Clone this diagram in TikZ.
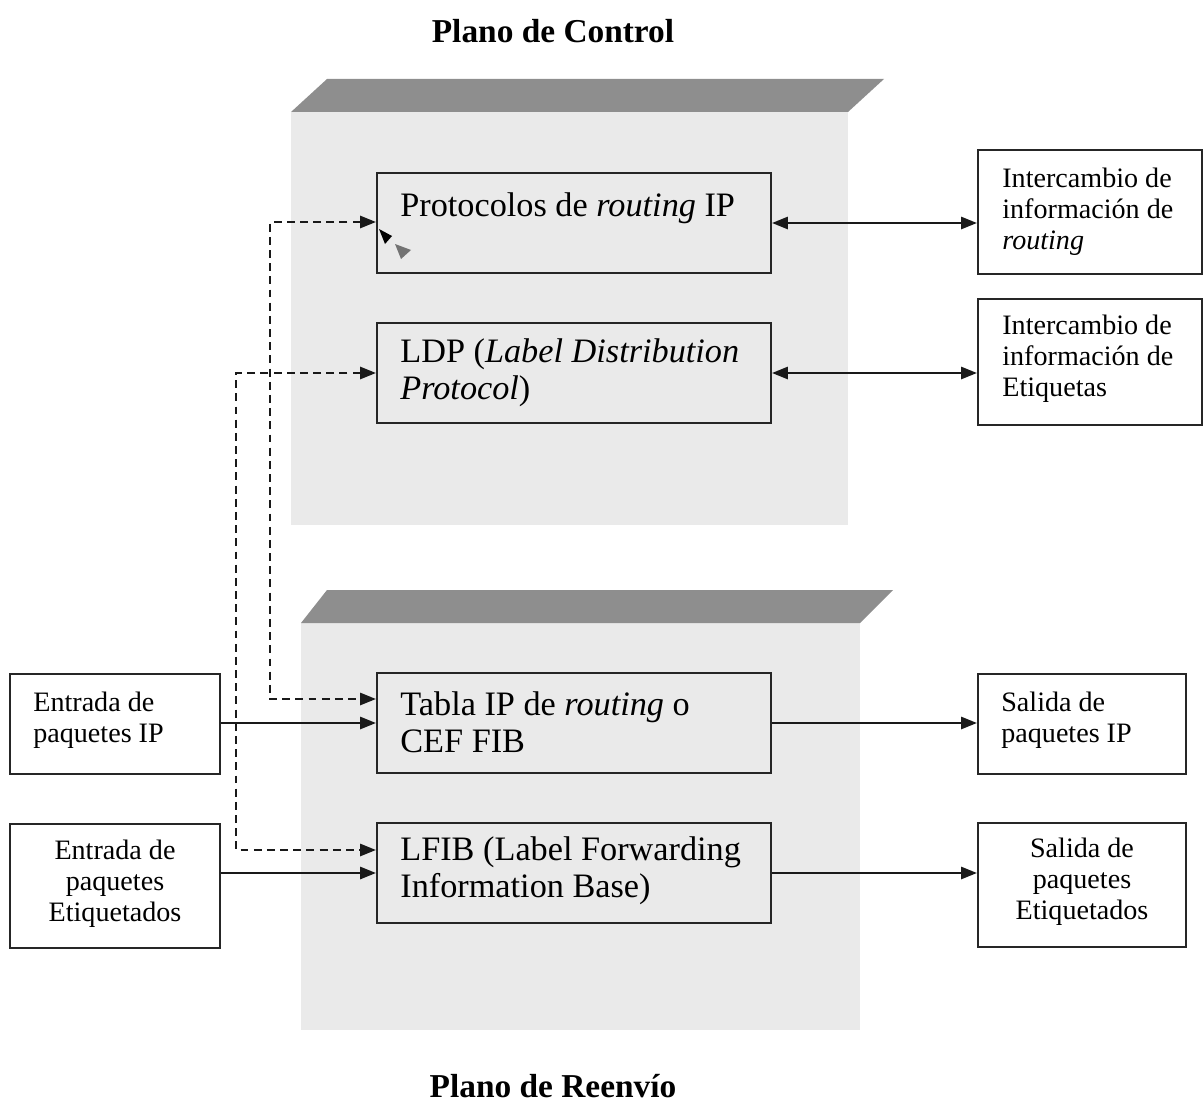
\documentclass[tikz,border=0pt]{standalone}
\usepackage{fontspec}
\setmainfont{Liberation Serif}
\usetikzlibrary{arrows.meta}
\definecolor{planefront}{HTML}{EAEAEA}
\definecolor{planetop}{HTML}{8E8E8E}
\begin{document}
\begin{tikzpicture}[x=0.02cm,y=-0.02cm,
  box/.style={draw=black!85,line width=1.3pt,rectangle,inner sep=0pt},
  outerbox/.style={box,fill=white},
  bigtext/.style={font=\fontsize{19.5}{21}\selectfont,align=left,inner sep=0pt,anchor=west},
  smalltext/.style={font=\fontsize{16}{17.6}\selectfont,inner sep=0pt},
  titletext/.style={font=\fontsize{19}{22}\selectfont\bfseries,inner sep=0pt},
  conn/.style={line width=1.1pt,draw=black!90},
  tipend/.style={-{Triangle[length=9pt,width=7pt]}},
  tipboth/.style={{Triangle[length=9pt,width=7pt]}-{Triangle[length=9pt,width=7pt]}},
  dashconn/.style={conn,dash pattern=on 4.5pt off 3pt}
]
\useasboundingbox (0,0) rectangle (1204,1115);

% titles
\node[titletext] (tctl) at (553,31) {Plano de Control};
\node[titletext] (tfwd) at (553,1086) {Plano de Reenvío};

% control plane slab
\fill[planefront] (291,112) rectangle (848,525);
\fill[planetop] (291,112) -- (327,79) -- (884,79) -- (848,112) -- cycle;

% forwarding plane slab
\fill[planefront] (301,623) rectangle (860,1030);
\fill[planetop] (301,623) -- (327,590) -- (893,590) -- (860,623) -- cycle;

% blocks inside the planes
\node[box,minimum width=7.88cm,minimum height=2cm] (prot) at (574,223) {};
\node[box,minimum width=7.88cm,minimum height=2cm] (ldp) at (574,373) {};
\node[box,minimum width=7.88cm,minimum height=2cm] (tabla) at (574,723) {};
\node[box,minimum width=7.88cm,minimum height=2cm] (lfib) at (574,873) {};

\node[bigtext] (protT) at (400,208) {Protocolos de \textit{routing} IP};
\node[bigtext] (ldpT) at (400,373) {LDP (\textit{Label Distribution}\\\textit{Protocol})};
\node[bigtext] (tablaT) at (400,722) {Tabla IP de \textit{routing} o\\CEF FIB};
\node[bigtext] (lfibT) at (400,871) {LFIB (Label Forwarding\\Information Base)};

% external boxes
\node[outerbox,minimum width=4.48cm,minimum height=2.48cm] (int1) at (1090,212) {};
\node[outerbox,minimum width=4.48cm,minimum height=2.52cm] (int2) at (1090,362) {};
\node[outerbox,minimum width=4.16cm,minimum height=2cm] (sal1) at (1082,724) {};
\node[outerbox,minimum width=4.16cm,minimum height=2.48cm] (sal2) at (1082,885) {};
\node[outerbox,minimum width=4.2cm,minimum height=2cm] (ent1) at (115,724) {};
\node[outerbox,minimum width=4.2cm,minimum height=2.48cm] (ent2) at (115,886) {};

\node[smalltext,align=left,anchor=west] (int1T) at (1002,212) {Intercambio de\\información de\\\textit{routing}};
\node[smalltext,align=left,anchor=west] (int2T) at (1002,359) {Intercambio de\\información de\\Etiquetas};
\node[smalltext,align=left,anchor=west] (sal1T) at (1001,720) {Salida de\\paquetes IP};
\node[smalltext,align=center] (sal2T) at (1082,882) {Salida de\\paquetes\\Etiquetados};
\node[smalltext,align=left,anchor=west] (ent1T) at (33,720) {Entrada de\\paquetes IP};
\node[smalltext,align=center] (ent2T) at (115,884) {Entrada de\\paquetes\\Etiquetados};

% control plane exchanges
\draw[conn,tipboth] (prot.east) -- (prot.east -| int1.west);
\draw[conn,tipboth] (ldp.east) -- (ldp.east -| int2.west);

% packet paths through the forwarding plane
\draw[conn,tipend] (ent1.east |- tabla.west) -- (tabla.west);
\draw[conn,tipend] (ent2.east |- lfib.west) -- (lfib.west);
\draw[conn,tipend] (tabla.east) -- (tabla.east -| sal1.west);
\draw[conn,tipend] (lfib.east) -- (lfib.east -| sal2.west);

% control plane feeding the forwarding tables
\coordinate (r1) at (270,222);
\coordinate (r2) at (270,699);
\coordinate (l1) at (236,373);
\coordinate (l2) at (236,850);
\draw[dashconn,tipboth] (prot.west |- r1) -- (r1) -- (r2) -- (tabla.west |- r2);
\draw[dashconn,tipboth] (ldp.west |- l1) -- (l1) -- (l2) -- (lfib.west |- l2);

% stray arrowhead marks next to the routing block
\fill[black] (379,229) -- (392,236) -- (385,244) -- cycle;
\fill[black!55] (395,244) -- (411,250) -- (401,259) -- cycle;
\end{tikzpicture}
\end{document}
